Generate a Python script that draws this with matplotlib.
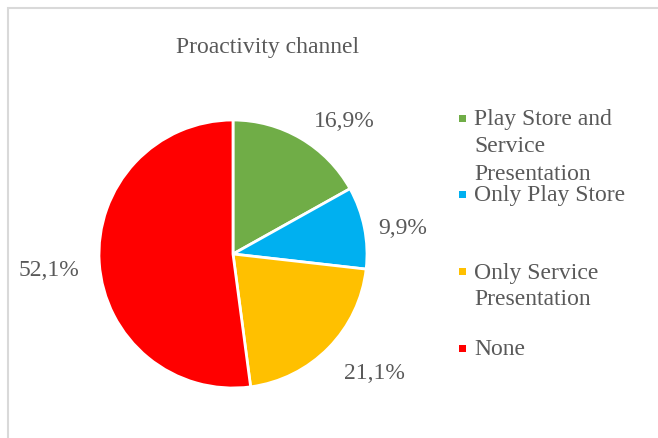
import matplotlib
matplotlib.use("Agg")
import matplotlib.pyplot as plt
import matplotlib.patches as mpatches
import numpy as np

categories = ["Play Store and\nService\nPresentation", "Only Play Store",
              "Only Service\nPresentation", "None"]
values = [16.9, 9.9, 21.1, 52.1]
value_labels = ["16,9%", "9,9%", "21,1%", "52,1%"]
colors = ["#70AD47", "#00B0F0", "#FFC000", "#FF0000"]
title = "Proactivity channel"

W, H = 658, 439
fig = plt.figure(figsize=(W / 100, H / 100), dpi=100)
plt.rcParams['font.family'] = ['Liberation Serif', 'DejaVu Serif']
txtc = "#595959"

# border
fig.patches.append(mpatches.Rectangle((8 / W, -0.1), 1.2, 1 - 9 / H + 0.1,
                                      transform=fig.transFigure, fill=False,
                                      edgecolor="#D9D9D9", linewidth=1.5))

cx, cy, r = 233, 255, 134
ax = fig.add_axes([(cx - r) / W, (H - cy - r) / H, 2 * r / W, 2 * r / H])
wedges, _ = ax.pie(values, colors=colors, startangle=90, counterclock=False,
                   wedgeprops=dict(edgecolor="white", linewidth=2))
ax.set_xlim(-1, 1)
ax.set_ylim(-1, 1)
ax.axis("off")

# value labels placed outside along each wedge's mid-angle
dists = [1.30, 1.28, 1.375, 1.38]
angle_adj = [-9.4, -2.4, 4.4, 0.9]
for w, lab, d, aa in zip(wedges, value_labels, dists, angle_adj):
    ang = np.deg2rad((w.theta1 + w.theta2) / 2 + aa)
    ax.text(d * np.cos(ang), d * np.sin(ang), lab, ha="center", va="center",
            fontsize=17, color=txtc, clip_on=False)

fig.text(268 / W, 1 - 48 / H, title, ha="center", va="center",
         fontsize=17, color=txtc)

# legend
ys = [119, 195, 272, 349]
line_h = 27
for c, lab, y in zip(colors, categories, ys):
    s = 7
    fig.patches.append(mpatches.Rectangle(((462 - s / 2) / W, (H - y - s / 2) / H),
                                          s / W, s / H, transform=fig.transFigure,
                                          facecolor=c, edgecolor="none"))
    for i, line in enumerate(lab.split("\n")):
        fig.text(474 / W, (H - y - i * line_h - 1) / H, line, ha="left",
                 va="center", fontsize=17, color=txtc)

fig.savefig("out.png", dpi=100)
